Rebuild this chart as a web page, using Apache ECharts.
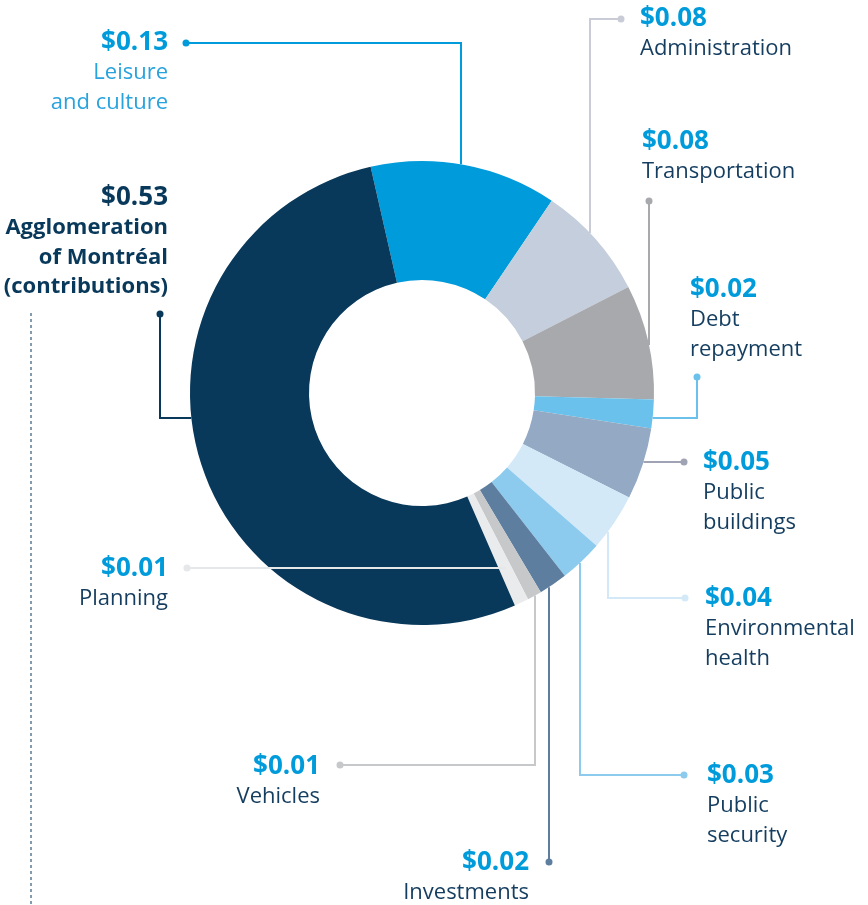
<!DOCTYPE html>
<html>
<head>
<meta charset="utf-8">
<style>
  html, body { margin: 0; padding: 0; background: #fff; }
  #main { width: 868px; height: 905px; }
</style>
<script src="https://cdn.jsdelivr.net/npm/echarts@6/dist/echarts.min.js"></script>
</head>
<body>
<div id="main"></div>
<script>
// data, clockwise from the top
const categories = ['Leisure and culture', 'Administration', 'Transportation', 'Debt repayment',
  'Public buildings', 'Environmental health', 'Public security', 'Investments', 'Vehicles',
  'Planning', 'Agglomeration of Montréal (contributions)'];
const values = [0.13, 0.08, 0.08, 0.02, 0.05, 0.04, 0.03, 0.02, 0.01, 0.01, 0.53];
const nameLines = [['Leisure', 'and culture'], ['Administration'], ['Transportation'], ['Debt', 'repayment'],
  ['Public', 'buildings'], ['Environmental', 'health'], ['Public', 'security'], ['Investments'], ['Vehicles'],
  ['Planning'], ['Agglomeration', 'of Montréal', '(contributions)']];
const sliceColors = ['#009bdb', '#c4cedd', '#a8a9ad', '#6ac2ec', '#93a9c4', '#d3e9f8', '#8ccbee',
  '#5d7e9f', '#c7c8ca', '#eaebed', '#08385a'];
const lineColors = ['#009bdb', '#c9cbd6', '#a8a9ad', '#6ac2ec', '#a0a3b4', '#d3e9f8', '#8ccbee',
  '#5d7e9f', '#c7c8ca', '#e6e7e9', '#08385a'];

// label layout: stem direction + position, end dot, text anchor
const layout = [
  { stem: 'v', s: 461, dot: [186, 43], tx: 168, align: 'right', vy: 42 },
  { stem: 'v', s: 590, dot: [621, 19], tx: 640, align: 'left', vy: 18 },
  { stem: 'v', s: 649, dot: [649, 201], tx: 642, align: 'left', vy: 141 },
  { stem: 'h', s: 418, dot: [697, 377], tx: 690, align: 'left', vy: 289 },
  { stem: 'h', s: 462, dot: [684, 462], tx: 703, align: 'left', vy: 462 },
  { stem: 'v', s: 608, dot: [685, 598], tx: 705, align: 'left', vy: 598 },
  { stem: 'v', s: 580, dot: [684, 775], tx: 707, align: 'left', vy: 775 },
  { stem: 'v', s: 549, dot: [549, 862], tx: 529, align: 'right', vy: 862 },
  { stem: 'v', s: 535, dot: [340, 765], tx: 320, align: 'right', vy: 766 },
  { stem: 'h', s: 568, dot: [187, 568], tx: 168, align: 'right', vy: 568, r: 194 },
  { stem: 'h', s: 418, dot: [160, 314], tx: 168, align: 'right', vy: 197 }
];

const cx = 422, cy = 393, r0 = 113, r1 = 232;
const startAngle = 102.8;
const FONT = '"Open Sans", "Noto Sans", sans-serif';
const TEXT_DY = 1;

const chart = echarts.init(document.getElementById('main'));

const total = values.reduce((a, b) => a + b, 0);
const graphics = [];
let cum = 0;
values.forEach(function (v, i) {
  const a0 = (90 - startAngle) + 360 * cum / total;
  cum += v;
  const a1 = (90 - startAngle) + 360 * cum / total;
  const mid = (a0 + a1) / 2 * Math.PI / 180;
  const L = layout[i];
  const r = L.r || r1;
  const mp = [cx + r * Math.sin(mid), cy - r * Math.cos(mid)];
  let cands, pts;
  if (L.stem === 'v') {
    const d = Math.sqrt(Math.max(0, r * r - (L.s - cx) * (L.s - cx)));
    cands = [[L.s, cy - d], [L.s, cy + d]];
  } else {
    const d = Math.sqrt(Math.max(0, r * r - (L.s - cy) * (L.s - cy)));
    cands = [[cx - d, L.s], [cx + d, L.s]];
  }
  const dist = p => Math.hypot(p[0] - mp[0], p[1] - mp[1]);
  const start = dist(cands[0]) < dist(cands[1]) ? cands[0] : cands[1];
  if (L.stem === 'v') pts = [start, [L.s, L.dot[1]], L.dot];
  else pts = [start, [L.dot[0], L.s], L.dot];

  graphics.push({
    type: 'polyline', z: 100, silent: true,
    shape: { points: pts },
    style: { stroke: lineColors[i], lineWidth: 2, fill: null }
  });
  graphics.push({
    type: 'circle', z: 101, silent: true,
    shape: { cx: L.dot[0], cy: L.dot[1], r: 3.5 },
    style: { fill: lineColors[i] }
  });

  const isAgglo = i === values.length - 1;
  graphics.push({
    type: 'text', z: 102, silent: true,
    style: {
      text: '$' + v.toFixed(2), x: L.tx, y: L.vy + TEXT_DY,
      fill: isAgglo ? '#08385a' : '#009bdb',
      font: 'bold 26px ' + FONT,
      textAlign: L.align, textVerticalAlign: 'middle'
    }
  });
  nameLines[i].forEach(function (t, k) {
    graphics.push({
      type: 'text', z: 102, silent: true,
      style: {
        text: t, x: L.tx, y: L.vy + TEXT_DY + 30 + 29.5 * k,
        fill: isAgglo ? '#08385a' : (i === 0 ? '#29a3dd' : '#143d5f'),
        font: (isAgglo ? 'bold ' : '') + '22px ' + FONT,
        textAlign: L.align, textVerticalAlign: 'middle'
      }
    });
  });
});

// dashed guide under the agglomeration label
graphics.push({
  type: 'line', z: 100, silent: true,
  shape: { x1: 31, y1: 313, x2: 31, y2: 905 },
  style: { stroke: '#08385a', lineWidth: 1, lineDash: [3, 3] }
});

chart.setOption({
  animation: false,
  series: [{
    type: 'pie',
    center: [cx, cy],
    radius: [r0, r1],
    startAngle: startAngle,
    clockwise: true,
    avoidLabelOverlap: false,
    label: { show: false },
    labelLine: { show: false },
    emphasis: { disabled: true },
    itemStyle: { borderWidth: 0 },
    data: categories.map(function (c, i) {
      return { name: c, value: values[i], itemStyle: { color: sliceColors[i] } };
    })
  }],
  graphic: graphics
});
</script>
</body>
</html>
